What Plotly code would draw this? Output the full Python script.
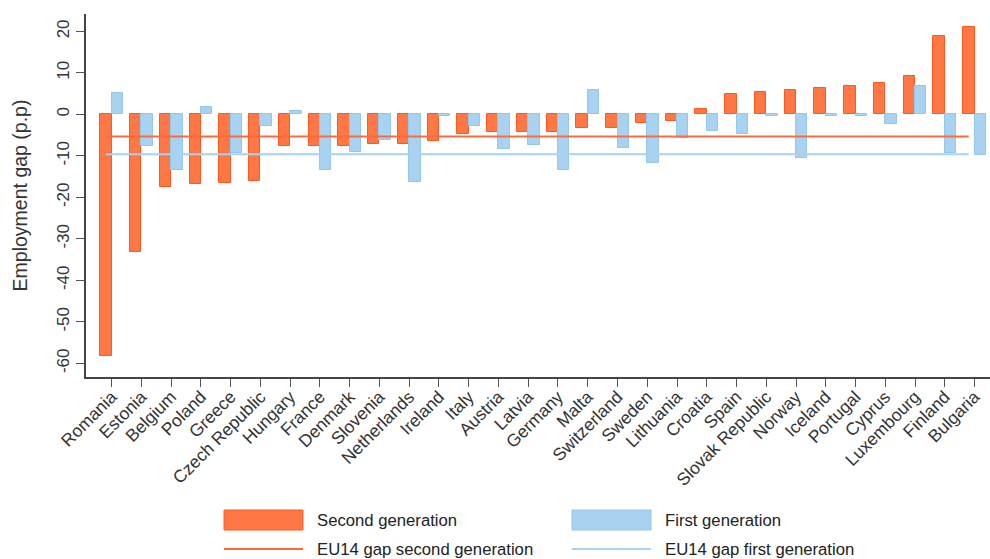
import plotly.graph_objects as go

# Employment gap of migrants' children vs. natives, by country (percentage points)
countries = ["Romania", "Estonia", "Belgium", "Poland", "Greece", "Czech Republic",
             "Hungary", "France", "Denmark", "Slovenia", "Netherlands", "Ireland",
             "Italy", "Austria", "Latvia", "Germany", "Malta", "Switzerland", "Sweden",
             "Lithuania", "Croatia", "Spain", "Slovak Republic", "Norway", "Iceland",
             "Portugal", "Cyprus", "Luxembourg", "Finland", "Bulgaria"]

second_gen = [-58.3, -33.1, -17.5, -16.8, -16.5, -16.1,
              -7.6, -7.6, -7.5, -7.2, -7.1, -6.3,
              -4.8, -4.3, -4.2, -4.2, -3.2, -3.2, -2.0,
              -1.7, 1.4, 4.8, 5.5, 5.8, 6.4,
              6.9, 7.5, 9.2, 18.9, 21.0]

first_gen = [5.2, -7.5, -13.5, 1.7, -9.4, -2.8,
             0.9, -13.4, -9.0, -6.2, -16.4, -0.3,
             -2.7, -8.4, -7.3, -13.3, 6.0, -8.0, -11.8,
             -5.7, -4.0, -4.8, -0.3, -10.6, -0.3,
             -0.3, -2.3, 6.9, -9.3, -9.9]

eu14_second = -5.3
eu14_first = -9.6

y_ticks = [20, 10, 0, -10, -20, -30, -40, -50, -60]
y_tick_labels = ["20", "10", "0", "-10", "-20", "-30", "-40", "-50", "-60"]

ORANGE = "#FF7744"
ORANGE_EDGE = "#FF5A1E"
BLUE = "#A8D2F0"
BLUE_EDGE = "#92C8EC"
FONT = "Liberation Sans, Arial, sans-serif"

W, H = 990, 559
ML, MT, MR, MB = 86, 14, 0, 182
PW, PH = W - ML - MR, H - MT - MB

idx = list(range(len(countries)))
bw = 0.385

fig = go.Figure()
fig.add_trace(go.Bar(x=idx, y=second_gen, width=bw, offset=-bw,
                     marker=dict(color=ORANGE, line=dict(color=ORANGE_EDGE, width=1)),
                     name="Second generation", showlegend=False))
fig.add_trace(go.Bar(x=idx, y=first_gen, width=bw, offset=0,
                     marker=dict(color=BLUE, line=dict(color=BLUE_EDGE, width=1)),
                     name="First generation", showlegend=False))

# EU14 reference lines run from the first to the last second-generation bar centre
x_line = [idx[0] - bw / 2, idx[-1] - bw / 2]
fig.add_trace(go.Scatter(x=x_line, y=[eu14_second] * 2, mode="lines",
                         line=dict(color="#FF6A3A", width=2), showlegend=False,
                         name="EU14 gap second generation"))
fig.add_trace(go.Scatter(x=x_line, y=[eu14_first] * 2, mode="lines",
                         line=dict(color="#A8D2F0", width=2), showlegend=False,
                         name="EU14 gap first generation"))


def px_x(p):
    return (p - ML) / PW


def px_y(p):
    return (H - MB - p) / PH


# hand-drawn legend below the plot, two columns
shapes = []
annots = []
legend_items = [
    ("box", ORANGE, ORANGE_EDGE, "Second generation", 224, 520),
    ("box", BLUE, BLUE_EDGE, "First generation", 572, 520),
    ("line", "#FF6A3A", None, "EU14 gap second generation", 224, 549),
    ("line", "#A8D2F0", None, "EU14 gap first generation", 572, 549),
]
for kind, col, edge, label, x0, yc in legend_items:
    if kind == "box":
        shapes.append(dict(type="rect", xref="paper", yref="paper",
                           x0=px_x(x0), x1=px_x(x0 + 79), y0=px_y(yc + 10), y1=px_y(yc - 10),
                           fillcolor=col, line=dict(color=edge, width=1)))
    else:
        shapes.append(dict(type="line", xref="paper", yref="paper",
                           x0=px_x(x0), x1=px_x(x0 + 79), y0=px_y(yc), y1=px_y(yc),
                           line=dict(color=col, width=2)))
    annots.append(dict(text=label, xref="paper", yref="paper", x=px_x(x0 + 91), y=px_y(yc),
                       xanchor="left", yanchor="middle", showarrow=False,
                       font=dict(family=FONT, size=16.7, color="#222222")))

fig.update_layout(
    width=W, height=H,
    margin=dict(l=ML, r=MR, t=MT, b=MB, pad=0),
    plot_bgcolor="white", paper_bgcolor="white",
    barmode="overlay", bargap=0,
    font=dict(family=FONT, color="#333333"),
    shapes=shapes, annotations=annots,
    xaxis=dict(range=[-0.864, 29.52], tickmode="array", tickvals=idx, ticktext=countries,
               tickangle=-45, ticks="outside", ticklen=8, tickwidth=1.2, tickcolor="#555555",
               ticklabelstandoff=-7,
               showline=True, linecolor="#444444", linewidth=1.5, showgrid=False,
               zeroline=False, tickfont=dict(family=FONT, size=17.5, color="#333333")),
    yaxis=dict(range=[-63.3, 24.2], tickmode="array", tickvals=y_ticks,
               ticktext=y_tick_labels,
               tickangle=-90, ticks="outside", ticklen=8, tickwidth=1.2, tickcolor="#555555",
               showline=True, linecolor="#444444", linewidth=1.5, showgrid=False,
               zeroline=False, tickfont=dict(family=FONT, size=17, color="#333333"),
               title=dict(text="Employment gap (p.p)", standoff=22,
                          font=dict(family=FONT, size=19.5, color="#333333"))),
)

fig.write_html("out.html")
